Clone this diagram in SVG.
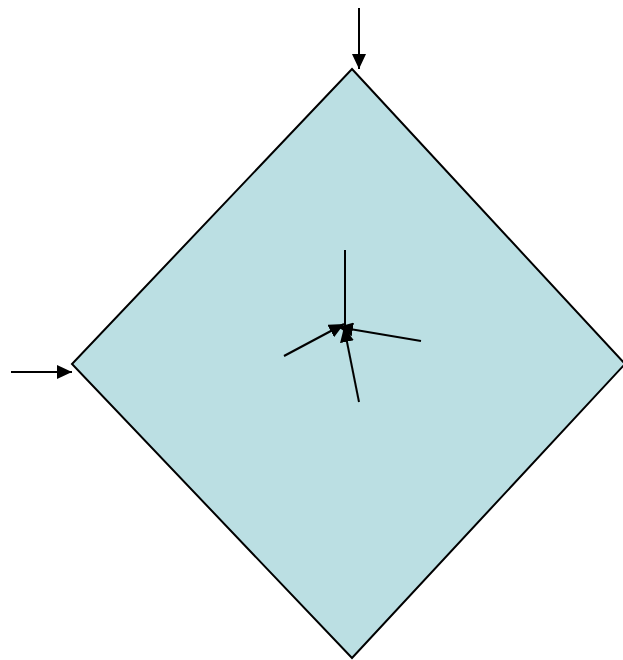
<svg xmlns="http://www.w3.org/2000/svg" width="623" height="660" viewBox="0 0 623 660">
<defs>
<style>
.ln{stroke:#000;stroke-width:2;fill:none}
</style>
<marker id="ah" markerUnits="userSpaceOnUse" markerWidth="16" markerHeight="14" refX="15" refY="7" orient="auto">
<path d="M0,0 L15,7 L0,14 Z" fill="#000"/>
</marker>
</defs>
<g id="diamond">
<polygon points="352,69 625,364 352,658 72,364" fill="#bbdfe3" stroke="#000" stroke-width="2"/>
</g>
<g id="connectors">
<line class="ln" x1="359" y1="8" x2="359" y2="69" marker-end="url(#ah)"/>
<line class="ln" x1="11" y1="372" x2="72" y2="372" marker-end="url(#ah)"/>
<line class="ln" x1="345" y1="250" x2="345" y2="326"/>
<line class="ln" x1="284" y1="356" x2="344" y2="324" marker-end="url(#ah)"/>
<line class="ln" x1="421" y1="341" x2="338" y2="327" marker-end="url(#ah)"/>
<line class="ln" x1="359" y1="402" x2="344" y2="327" marker-end="url(#ah)"/>
</g>
</svg>
